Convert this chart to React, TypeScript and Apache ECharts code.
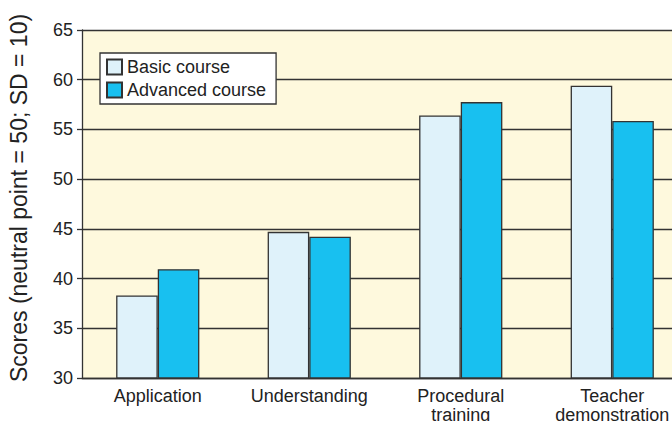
import React, { useEffect, useRef } from "react";
import * as echarts from "echarts";

const categories = ["Application", "Understanding", "Procedural\ntraining", "Teacher\ndemonstration"];
const basicCourse = [38.3, 44.7, 56.4, 59.4];
const advancedCourse = [40.95, 44.2, 57.75, 55.85];
const seriesNames = ["Basic course", "Advanced course"];
const yTitle = "Scores (neutral point = 50; SD = 10)";

const FONT = "'Liberation Sans', Arial, Helvetica, sans-serif";

export default function App() {
  const ref = useRef<HTMLDivElement>(null);
  useEffect(() => {
    document.body.style.margin = "0";
    if (!ref.current) return;
    const chart = echarts.init(ref.current, undefined, { renderer: "svg" });
    chart.setOption({
      animation: false,
      backgroundColor: "#ffffff",
      textStyle: { fontFamily: FONT },
      grid: {
        left: 82,
        top: 30,
        width: 606,
        height: 348,
        show: true,
        backgroundColor: "#FEF9DD",
        borderWidth: 0,
        containLabel: false,
        outerBoundsMode: "none",
      },
      legend: {
        orient: "vertical",
        left: 100,
        top: 53,
        padding: [5, 10, 5, 6],
        itemGap: 5,
        itemWidth: 15,
        itemHeight: 15,
        backgroundColor: "#ffffff",
        borderColor: "#333333",
        borderWidth: 1.3,
        borderRadius: 0,
        icon: "rect",
        textStyle: { fontFamily: FONT, fontSize: 18, color: "#222222" },
        data: seriesNames,
      },
      xAxis: {
        type: "category",
        data: categories,
        axisLine: { show: true, lineStyle: { color: "#333333", width: 1.3 } },
        axisTick: { show: false },
        axisLabel: {
          interval: 0,
          margin: 8,
          fontFamily: FONT,
          fontSize: 18,
          lineHeight: 19,
          color: "#222222",
          hideOverlap: false,
        },
      },
      yAxis: {
        type: "value",
        min: 30,
        max: 65,
        interval: 5,
        axisLine: { show: true, lineStyle: { color: "#333333", width: 1.3 } },
        axisTick: { show: true, length: 5, lineStyle: { color: "#333333", width: 1.3 } },
        axisLabel: { margin: 9, fontFamily: FONT, fontSize: 18, color: "#222222" },
        splitLine: { show: true, lineStyle: { color: "#333333", width: 1.3 } },
      },
      graphic: [
        {
          type: "text",
          x: 19,
          y: 198,
          rotation: Math.PI / 2,
          style: {
            text: yTitle,
            fontFamily: FONT,
            fontSize: 23,
            fill: "#222222",
            align: "center",
            verticalAlign: "middle",
          },
        },
      ],
      series: [
        {
          name: seriesNames[0],
          type: "bar",
          data: basicCourse,
          barWidth: 41.6,
          barGap: "0%",
          itemStyle: { color: "#DFF2FA", borderColor: "#333333", borderWidth: 1.3 },
        },
        {
          name: seriesNames[1],
          type: "bar",
          data: advancedCourse,
          barWidth: 41.6,
          barGap: "0%",
          itemStyle: { color: "#18C0F0", borderColor: "#333333", borderWidth: 1.3 },
        },
      ],
    });
    return () => chart.dispose();
  }, []);
  return <div ref={ref} style={{ width: 672, height: 421, overflow: "hidden" }} />;
}
